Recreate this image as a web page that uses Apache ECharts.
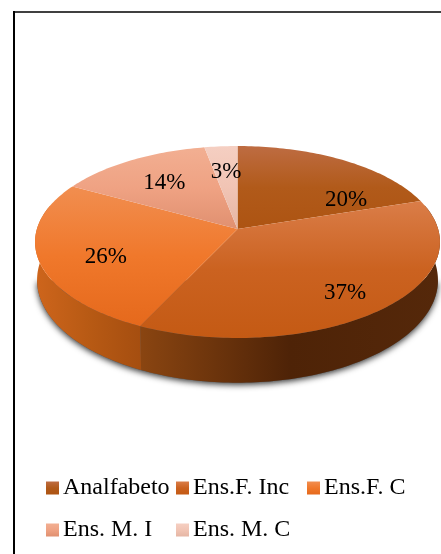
<!DOCTYPE html>
<html>
<head>
<meta charset="utf-8">
<style>
  html, body { margin: 0; padding: 0; background: #fff; }
  #chart { width: 441px; height: 554px; }
</style>
<script src="https://cdn.jsdelivr.net/npm/echarts@6/dist/echarts.min.js"></script>
</head>
<body>
<div id="chart"></div>
<script>
// Schooling levels, share of respondents in percent
const categories = ['Analfabeto', 'Ens.F. Inc', 'Ens.F. C', 'Ens. M. I', 'Ens. M. C'];
const shares = [20, 37, 26, 14, 3];

// Top face gradient stops per slice: [highlight, mid, base]
const topColors = [
  ['#BE6C42', '#B15A1A', '#AD5412'],
  ['#DA7D48', '#CB6220', '#C45A14'],
  ['#F18E50', '#F0782B', '#E5691C'],
  ['#F2AF92', '#EFA283', '#E09070'],
  ['#F5CFC2', '#F1C4B4', '#E5B6A4']
];
// Rim gradient stops for the slices facing the viewer, left to right
const rimColors = {
  1: ['#8A4511', '#4E2307', '#55280A'],
  2: ['#CE651C', '#B85A14', '#A54E10']
};
// Label placement on the disc: radius fraction and clockwise angle in degrees
const labelRadius = [0.656, 0.786, 0.689, 0.665, 0.675];
const labelAngle = [59.5, 141.3, 246.4, 324, 354.7];

// Projection of the tilted disc
const disc = { cx: 237.5, cy: 229, a: 200.6, b: 94.2, k: 0.1355 };
// Lower rim ellipse relative to the upper one
const rim = { topMidY: 242, bottomMidY: 280, scaleX: 0.99, scaleY: 1.07 };
const deg = Math.PI / 180;
// Rim arc facing the viewer
const rimFrom = 75 * deg;
const rimTo = 285 * deg;
// Silhouette of the lower rim that casts the shadow
const shadowFrom = 98 * deg;
const shadowTo = 262 * deg;

const total = shares.reduce((s, v) => s + v, 0);

function project(theta, radius) {
  const u = radius * Math.sin(theta);
  const v = radius * Math.cos(theta);
  const d = 1 + disc.k * v;
  return [disc.cx + disc.a * u / d, disc.cy - disc.b * v / d];
}
function lower(p) {
  return [
    disc.cx + (p[0] - disc.cx) * rim.scaleX,
    rim.bottomMidY + (p[1] - rim.topMidY) * rim.scaleY
  ];
}
function sliceRange(i) {
  const before = shares.slice(0, i).reduce((s, v) => s + v, 0);
  return [before / total * 2 * Math.PI, (before + shares[i]) / total * 2 * Math.PI];
}
function arcPoints(from, to) {
  const steps = Math.max(2, Math.ceil((to - from) / 0.02));
  const pts = [];
  for (let j = 0; j <= steps; j++) pts.push(project(from + (to - from) * j / steps, 1));
  return pts;
}
function rimPolygon(from, to) {
  const arc = arcPoints(from, to);
  return arc.concat(arc.slice().reverse().map(lower));
}

const LG = echarts.graphic.LinearGradient;

function faceFill(i) {
  return new LG(0, 0, 0, 1, [
    { offset: 0, color: topColors[i][0] },
    { offset: 0.5, color: topColors[i][1] },
    { offset: 1, color: topColors[i][2] }
  ]);
}

function renderSlice(i) {
  return function () {
    const [from, to] = sliceRange(i);
    const children = [];
    if (rimColors[i]) {
      const stops = rimColors[i];
      children.push({
        type: 'polygon',
        z2: 2,
        shape: { points: rimPolygon(Math.max(from, rimFrom), Math.min(to, rimTo)) },
        style: {
          fill: new LG(0, 0, 1, 0, stops.map((color, s) => ({ offset: s / (stops.length - 1), color })))
        }
      });
    }
    children.push({
      type: 'polygon',
      z2: 10,
      shape: { points: [[disc.cx, disc.cy]].concat(arcPoints(from, to)) },
      style: { fill: faceFill(i) }
    });
    const at = project(labelAngle[i] * deg, labelRadius[i]);
    children.push({
      type: 'text',
      z2: 20,
      style: {
        x: at[0],
        y: at[1] + 1,
        text: shares[i] + '%',
        fill: '#000',
        font: '23px "Liberation Serif"',
        align: 'center',
        verticalAlign: 'middle'
      }
    });
    return { type: 'group', children };
  };
}

// Soft shadow under the disc rim
function renderShadow() {
  return {
    type: 'polygon',
    z2: 1,
    shape: { points: arcPoints(shadowFrom, shadowTo).map(lower) },
    style: { fill: '#555', shadowColor: 'rgba(0,0,0,0.8)', shadowBlur: 6, shadowOffsetY: 2 }
  };
}

const legendX = [46, 176, 307, 46, 176];
const legendY = [480, 480, 480, 522, 522];

const option = {
  animation: false,
  backgroundColor: '#fff',
  legend: categories.map((name, i) => ({
    data: [name],
    left: legendX[i],
    top: legendY[i] - 4,
    padding: 0,
    itemWidth: 13,
    itemHeight: 13,
    itemGap: 0,
    icon: 'rect',
    selectedMode: false,
    textStyle: { fontFamily: 'Liberation Serif', fontSize: 24, color: '#000', padding: [0, 0, 0, -1] }
  })),
  series: [
    { type: 'custom', name: 'rim-shadow', coordinateSystem: 'none', data: [0], renderItem: renderShadow, silent: true }
  ].concat(categories.map((name, i) => ({
    type: 'custom',
    name,
    coordinateSystem: 'none',
    data: [shares[i]],
    renderItem: renderSlice(i),
    silent: true,
    itemStyle: { color: faceFill(i) }
  }))),
  graphic: [
    { type: 'line', shape: { x1: 14, y1: 12, x2: 441, y2: 12 }, style: { stroke: '#000', lineWidth: 1.5 } },
    { type: 'line', shape: { x1: 14, y1: 11, x2: 14, y2: 554 }, style: { stroke: '#000', lineWidth: 2 } }
  ]
};

const chart = echarts.init(document.getElementById('chart'), null, { renderer: 'canvas' });
chart.setOption(option);
</script>
</body>
</html>
